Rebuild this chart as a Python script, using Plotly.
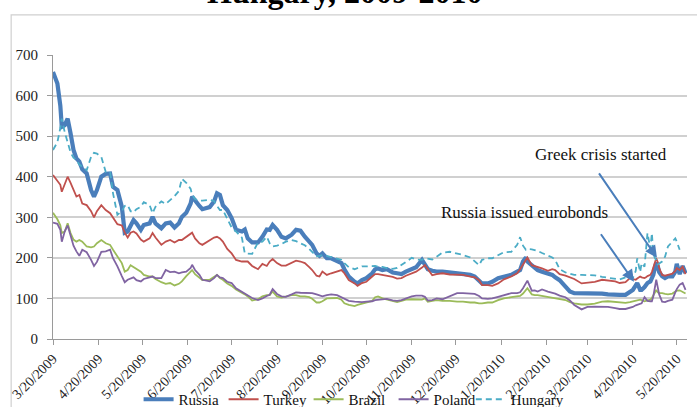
import plotly.graph_objects as go

dates = [
"2009-03-20","2009-03-23","2009-03-25","2009-03-26","2009-03-28","2009-03-30","2009-04-01","2009-04-03","2009-04-05","2009-04-07",
"2009-04-09","2009-04-12","2009-04-15","2009-04-17","2009-04-19","2009-04-22","2009-04-25","2009-04-28","2009-04-30","2009-05-03",
"2009-05-06","2009-05-08","2009-05-10","2009-05-12","2009-05-14","2009-05-16","2009-05-19","2009-05-21","2009-05-25","2009-05-27",
"2009-05-29","2009-06-02","2009-06-05","2009-06-08","2009-06-11","2009-06-14","2009-06-16","2009-06-19","2009-06-22","2009-06-23",
"2009-06-25","2009-06-28","2009-06-30","2009-07-05","2009-07-08","2009-07-10","2009-07-12","2009-07-14","2009-07-17","2009-07-20",
"2009-07-23","2009-07-27","2009-07-29","2009-07-31","2009-08-03","2009-08-07","2009-08-10","2009-08-13","2009-08-15","2009-08-17",
"2009-08-20","2009-08-23","2009-08-26","2009-08-30","2009-09-02","2009-09-05","2009-09-08","2009-09-11","2009-09-13","2009-09-16",
"2009-09-18","2009-09-20","2009-09-23","2009-09-26","2009-09-30","2009-10-03","2009-10-05","2009-10-08","2009-10-12","2009-10-14",
"2009-10-17","2009-10-20","2009-10-24","2009-10-26","2009-10-28","2009-10-31","2009-11-03","2009-11-07","2009-11-10","2009-11-13",
"2009-11-16","2009-11-20","2009-11-23","2009-11-27","2009-11-29","2009-12-01","2009-12-04","2009-12-07","2009-12-11","2009-12-16",
"2009-12-21","2009-12-25","2009-12-30","2010-01-02","2010-01-05","2010-01-07","2010-01-11","2010-01-14","2010-01-18","2010-01-22",
"2010-01-27","2010-01-31","2010-02-02","2010-02-04","2010-02-06","2010-02-07","2010-02-10","2010-02-12","2010-02-14","2010-02-17",
"2010-02-21","2010-02-24","2010-02-26","2010-03-01","2010-03-05","2010-03-08","2010-03-11","2010-03-16","2010-03-20","2010-03-25",
"2010-03-30","2010-04-03","2010-04-08","2010-04-11","2010-04-15","2010-04-18","2010-04-20","2010-04-22","2010-04-23","2010-04-25",
"2010-04-26","2010-04-28","2010-04-29","2010-04-30","2010-05-02","2010-05-03","2010-05-04","2010-05-05","2010-05-06","2010-05-07",
"2010-05-08","2010-05-10","2010-05-12","2010-05-14","2010-05-17","2010-05-19","2010-05-20","2010-05-22","2010-05-24","2010-05-26"]

russia = [658,630,575,523,527,543,507,466,445,437,
418,408,367,351,367,400,407,408,375,367,
326,262,265,281,293,285,269,281,285,301,
285,273,285,287,275,285,301,311,334,351,
340,328,320,325,339,359,355,330,318,298,
269,265,270,248,238,238,252,270,269,281,
269,252,248,257,269,267,252,240,232,211,
205,211,199,199,193,187,172,154,141,137,
145,150,162,172,174,170,172,164,162,160,
166,172,177,195,182,172,168,166,166,164,
162,160,158,154,145,137,137,141,150,154,
158,166,170,191,201,191,182,177,170,166,
162,158,152,145,129,117,113,113,114,112,
112,110,111,109,109,117,121,132,138,121,
121,128,135,138,142,148,158,175,188,180,
165,155,150,154,154,166,185,160,180,162]

turkey = [404,390,380,363,380,400,385,368,351,355,
334,330,315,300,315,330,318,310,300,283,
280,262,250,262,265,260,245,240,248,261,
250,232,240,244,238,244,244,252,260,262,
248,236,232,244,250,252,248,240,222,211,
195,191,191,191,180,172,185,180,191,197,
187,181,181,189,193,191,187,177,170,156,
154,166,158,162,166,170,162,145,137,131,
138,141,154,160,160,158,156,153,149,150,
156,162,166,176,182,172,157,160,162,159,
158,158,154,152,145,133,133,131,137,147,
154,162,172,185,197,201,182,180,177,174,
168,172,170,160,156,151,148,137,139,141,
146,145,142,138,140,150,148,146,149,154,
152,150,152,155,158,165,176,188,199,190,
175,158,156,158,161,168,175,170,178,160]

brazil = [311,295,280,261,265,285,261,245,240,244,
240,228,226,228,236,244,236,232,220,203,
187,166,170,182,178,172,166,158,154,154,
148,140,136,138,132,136,142,155,168,170,
160,150,145,146,152,158,150,146,137,131,
122,115,110,105,95,98,105,108,108,117,
105,102,105,108,108,105,105,103,99,90,
90,93,100,101,101,97,88,84,81,84,
87,89,94,103,105,100,97,93,91,94,
97,98,97,97,100,92,94,96,94,94,
92,92,90,90,88,88,90,90,96,100,
103,104,106,112,120,125,110,108,108,106,
104,103,101,98,96,91,88,85,85,87,
92,93,91,89,89,91,93,95,96,97,
96,93,94,95,97,101,106,114,121,115,
113,113,111,110,112,117,119,120,117,112]

poland = [287,284,269,240,265,280,255,230,216,205,
220,214,195,180,190,215,216,220,199,179,
155,140,146,150,152,145,142,148,152,154,
150,150,170,165,166,162,164,166,175,183,
170,158,146,142,150,158,152,150,141,138,
125,117,113,108,101,96,100,106,109,123,
111,105,104,110,115,114,113,113,113,110,
107,105,108,110,108,102,100,94,92,91,
91,92,93,96,97,99,99,95,94,96,
100,105,107,107,104,95,96,100,98,105,
113,113,111,111,106,100,99,100,104,108,
113,113,115,125,137,144,119,120,117,122,
117,115,112,107,103,95,84,73,79,80,
80,79,76,74,74,77,79,83,84,86,
88,103,98,94,93,93,105,125,146,128,
110,92,91,94,97,115,123,134,138,121]

hungary = [466,485,520,543,510,485,460,447,441,430,
425,416,449,459,457,449,412,412,359,306,
315,328,330,315,312,320,326,337,330,310,
326,339,333,343,352,365,395,385,370,355,
345,341,341,343,340,328,318,318,295,275,
265,250,211,211,210,238,240,252,236,228,
230,234,240,244,241,236,231,222,214,204,
205,207,205,202,198,195,187,177,172,175,
179,179,179,180,178,178,175,173,175,182,
190,200,196,195,199,198,196,203,213,215,
211,207,201,191,182,195,199,199,207,214,
215,232,251,230,220,222,221,219,217,212,
206,201,195,172,164,161,158,158,158,157,
153,151,149,147,152,155,150,168,199,165,
187,178,220,261,222,261,211,200,195,184,
186,191,203,228,240,248,240,220,None,None]

tick_dates = ["2009-03-20","2009-04-20","2009-05-20","2009-06-20","2009-07-20","2009-08-20",
              "2009-09-20","2009-10-20","2009-11-20","2009-12-20","2010-01-20","2010-02-20",
              "2010-03-20","2010-04-20","2010-05-20"]
tick_labels = ["3/20/2009","4/20/2009","5/20/2009","6/20/2009","7/20/2009","8/20/2009",
               "9/20/2009","10/20/2009","11/20/2009","12/20/2009","1/20/2010","2/20/2010",
               "3/20/2010","4/20/2010","5/20/2010"]

SERIF = "Liberation Serif, Times New Roman, serif"

series = [
    ("Russia", russia, "#4a7ebb", 4.2, "solid", "legend"),
    ("Turkey", turkey, "#c0504d", 1.8, "solid", "legend"),
    ("Brazil", brazil, "#9bbb59", 1.8, "solid", "legend"),
    ("Poland", poland, "#8064a2", 1.8, "solid", "legend"),
    ("Hungary", hungary, "#4bacc6", 1.8, "6px,4px", "legend2"),
]

fig = go.Figure()
for name, vals, color, w, dash, leg in series:
    fig.add_trace(go.Scatter(x=dates, y=vals, name=name, mode="lines",
                             line=dict(color=color, width=w, dash=dash),
                             connectgaps=False, legend=leg))

LEG_FONT = dict(family=SERIF, size=15, color="#111111")
fig.update_layout(
    width=697, height=407,
    margin=dict(l=53, r=10, t=55, b=68, autoexpand=False),
    paper_bgcolor="white", plot_bgcolor="white",
    font=dict(family=SERIF, size=14, color="#222222"),
    showlegend=True,
    legend=dict(orientation="h", x=0.135, xanchor="left", y=-0.155, yanchor="top",
                font=LEG_FONT, itemwidth=30, entrywidth=40, entrywidthmode="pixels",
                tracegroupgap=0, bgcolor="rgba(0,0,0,0)"),
    legend2=dict(orientation="h", x=0.659, xanchor="left", y=-0.155, yanchor="top",
                 font=LEG_FONT, itemwidth=30, bgcolor="rgba(0,0,0,0)"),
)

fig.update_xaxes(type="date", range=["2009-03-20", "2010-05-27"], automargin=False,
                 tickmode="array", tickvals=tick_dates, ticktext=tick_labels,
                 tickangle=-45, ticks="outside", ticklen=5, tickcolor="#9a9a9a",
                 showline=True, linecolor="#9a9a9a", linewidth=1.2,
                 showgrid=False, zeroline=False,
                 tickfont=dict(family=SERIF, size=14, color="#222222"))
fig.update_yaxes(range=[0, 700], dtick=100, tick0=0, automargin=False,
                 ticks="outside", ticklen=5, tickcolor="#9a9a9a", ticklabelstandoff=6,
                 showline=True, linecolor="#9a9a9a", linewidth=1.2,
                 showgrid=True, gridcolor="#d0d0d0", gridwidth=1.5, zeroline=False,
                 tickfont=dict(family=SERIF, size=15, color="#222222"))

# chart-area border
fig.add_shape(type="rect", xref="paper", yref="paper",
              x0=-0.066, x1=1.05, y0=-0.4, y1=1.141,
              line=dict(color="#d0d0d0", width=1.2), fillcolor="rgba(0,0,0,0)", layer="below")

# title (cut off at top)
fig.add_annotation(text="<b>Hungary, 2009-2010</b>", xref="paper", yref="paper",
                   x=0.46, y=1.152, xanchor="center", yanchor="bottom", showarrow=False,
                   font=dict(family=SERIF, size=32, color="#000000"))

ARROW = "#4a7ebb"
fig.add_annotation(text="Greek crisis started", xref="paper", yref="paper",
                   x=0.864, y=0.651, xanchor="center", yanchor="middle", showarrow=False,
                   font=dict(family=SERIF, size=17, color="#111111"))
fig.add_annotation(text="Russia issued eurobonds", xref="paper", yref="paper",
                   x=0.744, y=0.444, xanchor="center", yanchor="middle", showarrow=False,
                   font=dict(family=SERIF, size=17, color="#111111"))
fig.add_annotation(text="", x="2010-05-06 12:00", y=200, ax="2010-03-27 05:00", ay=412,
                   xref="x", yref="y", axref="x", ayref="y", showarrow=True,
                   arrowhead=2, arrowsize=1.2, arrowwidth=2, arrowcolor=ARROW, standoff=0)
fig.add_annotation(text="", x="2010-04-20 19:00", y=141, ax="2010-03-28 12:00", ay=262,
                   xref="x", yref="y", axref="x", ayref="y", showarrow=True,
                   arrowhead=2, arrowsize=1.2, arrowwidth=2, arrowcolor=ARROW, standoff=0)

fig.write_html("out.html", config={"displayModeBar": False},
               post_script="document.body.style.margin='0px';document.body.style.overflow='hidden';")
